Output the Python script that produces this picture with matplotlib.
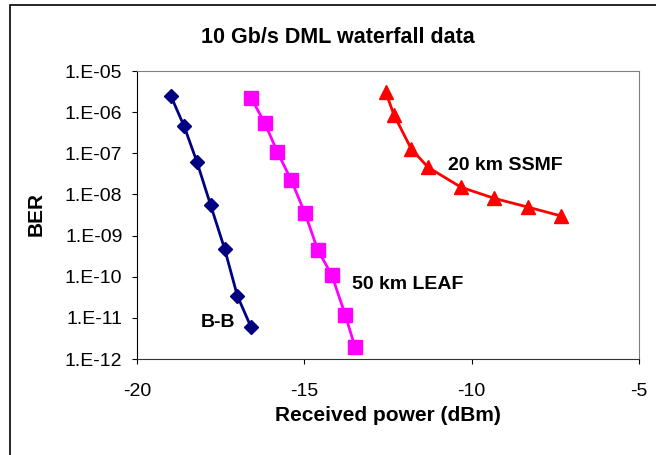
import matplotlib.pyplot as plt
import matplotlib.patches as patches

# Datos
bb_power = [-18.99, -18.59, -18.21, -17.80, -17.38, -17.00, -16.59]
bb_ber = [2.5e-6, 4.5e-7, 6.2e-8, 5.5e-9, 4.7e-10, 3.4e-11, 5.9e-12]

leaf_power = [-16.59, -16.18, -15.81, -15.39, -14.98, -14.60, -14.18, -13.78, -13.49]
leaf_ber = [2.2e-6, 5.4e-7, 1.1e-7, 2.2e-8, 3.5e-9, 4.5e-10, 1.1e-10, 1.2e-11, 2.0e-12]

ssmf_power = [-12.57, -12.32, -11.81, -11.31, -10.32, -9.32, -8.31, -7.33]
ssmf_ber = [3.1e-6, 8.5e-7, 1.3e-7, 4.6e-8, 1.5e-8, 8.0e-9, 4.9e-9, 3.0e-9]

x_ticks = [-20, -15, -10, -5]
y_exps = list(range(-12, -4))
y_ticks = [10.0 ** e for e in y_exps]
y_labels = ['1.E-%02d' % -e for e in y_exps]

plt.rcParams['font.family'] = ['Liberation Sans', 'DejaVu Sans']

fig = plt.figure(figsize=(6.56, 4.55), dpi=100)
W, H = 656, 455
left, right, top, bottom = 137, 639, 71, 359
ax = fig.add_axes([left / W, 1 - bottom / H, (right - left) / W, (bottom - top) / H])

# Marco exterior
fig.patches.append(patches.Rectangle((10 / W, -0.1), 1.2, 1.1 - 5 / H, transform=fig.transFigure,
                                     fill=False, edgecolor='black', linewidth=1.2))

ax.plot(bb_power, bb_ber, color='#000080', marker='D', markersize=7.5, linewidth=2)
ax.plot(leaf_power, leaf_ber, color='#FF00FF', marker='s', markersize=10.5, linewidth=2)
ax.plot(ssmf_power, ssmf_ber, color='#FF0000', marker='^', markersize=10, linewidth=2)

ax.set_yscale('log')
ax.set_xlim(-20, -5)
ax.set_ylim(1e-12, 1e-5)
ax.set_xticks(x_ticks)
ax.set_xticklabels([str(v) for v in x_ticks])
ax.set_yticks(y_ticks)
ax.set_yticklabels(y_labels)
ax.minorticks_off()
ax.tick_params(labelsize=14, direction='out', length=3.5, color='black')
ax.tick_params(axis='y', pad=7)
ax.tick_params(axis='x', pad=14)

for side in ['top', 'right']:
    ax.spines[side].set_color('#808080')
ax.spines['left'].set_color('black')
ax.spines['bottom'].set_color('#333333')

ax.set_xlabel('Received power (dBm)', fontsize=15, fontweight='bold', va='baseline')
ax.xaxis.set_label_coords(0.499, (bottom - 421) / (bottom - top))
ax.set_ylabel('BER', fontsize=15, fontweight='bold', va='center')
ax.yaxis.set_label_coords((36.5 - left) / (right - left), 0.503)
fig.text(338 / W, 1 - 43 / H, '10 Gb/s DML waterfall data', fontsize=15.5, fontweight='bold',
         ha='center', va='baseline')

ax.text(-18.10, 7.9e-12, 'B-B', fontsize=14, fontweight='bold', ha='left', va='center')
ax.text(-13.59, 6.3e-11, '50 km LEAF', fontsize=14, fontweight='bold', ha='left', va='center')
ax.text(-10.72, 5.0e-8, '20 km SSMF', fontsize=14, fontweight='bold', ha='left', va='center')

fig.savefig('out.png', dpi=100)
